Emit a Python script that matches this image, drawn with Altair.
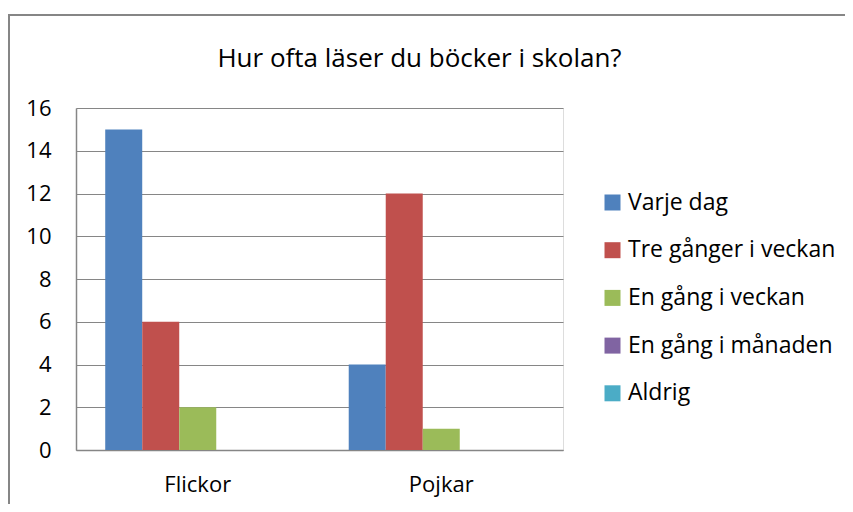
import altair as alt
import pandas as pd

categories = ["Flickor", "Pojkar"]
series = ["Varje dag", "Tre gånger i veckan", "En gång i veckan", "En gång i månaden", "Aldrig"]
flickor = [15, 6, 2, 0, 0]
pojkar = [4, 12, 1, 0, 0]
colors = ["#4F81BD", "#C0504D", "#9BBB59", "#8064A2", "#4BACC6"]
y_ticks = [0, 2, 4, 6, 8, 10, 12, 14, 16]

rows = []
for cat, vals in zip(categories, [flickor, pojkar]):
    for s, v in zip(series, vals):
        rows.append({"Kön": cat, "Svar": s, "Antal": v})
df = pd.DataFrame(rows)

FONT = "Open Sans"

bars = alt.Chart(df).mark_bar(size=37).encode(
    x=alt.X("Kön:N", sort=categories,
            scale=alt.Scale(paddingInner=0.24, paddingOuter=0.12),
            axis=alt.Axis(title=None, labelAngle=0, ticks=False, domain=True,
                          domainColor="#868686", domainWidth=1.5,
                          labelFontSize=22, labelPadding=24, labelColor="#000000",
                          labelFont=FONT)),
    xOffset=alt.XOffset("Svar:N", sort=series, scale=alt.Scale(paddingInner=0, paddingOuter=0)),
    y=alt.Y("Antal:Q", scale=alt.Scale(domain=[0, 16], nice=False),
            axis=alt.Axis(title=None, values=y_ticks, ticks=False, domain=True,
                          domainColor="#868686", domainWidth=1.5,
                          grid=True, gridColor="#868686", gridWidth=1.2,
                          labelFontSize=22, labelPadding=25, labelColor="#000000",
                          labelFont=FONT)),
    color=alt.Color("Svar:N", sort=series,
                    scale=alt.Scale(domain=series, range=colors),
                    legend=alt.Legend(title=None, orient="none", legendX=525, legendY=83,
                                      symbolType="square", symbolSize=256,
                                      symbolStrokeWidth=0, labelFontSize=23,
                                      labelFont=FONT, labelColor="#000000",
                                      labelOffset=4, rowPadding=23.7,
                                      labelLimit=400)),
)

frame = alt.Chart(df).mark_rect(fill=None, stroke="#868686", strokeWidth=1.5).encode(
    x=alt.value(-67), x2=alt.value(900), y=alt.value(-93), y2=alt.value(600)
)

chart = alt.layer(bars, frame).properties(
    width=487, height=342,
    title=alt.TitleParams("Hur ofta läser du böcker i skolan?", fontSize=26, font=FONT,
                          fontWeight="normal", color="#000000", anchor="middle",
                          dx=100, offset=-58),
    autosize=alt.AutoSizeParams(type="none"),
    padding={"left": 68, "top": 100, "right": 282, "bottom": 54},
).configure_view(stroke=None).configure(background="white")

chart.save("out.html", embed_options={"renderer": "svg", "actions": False})
